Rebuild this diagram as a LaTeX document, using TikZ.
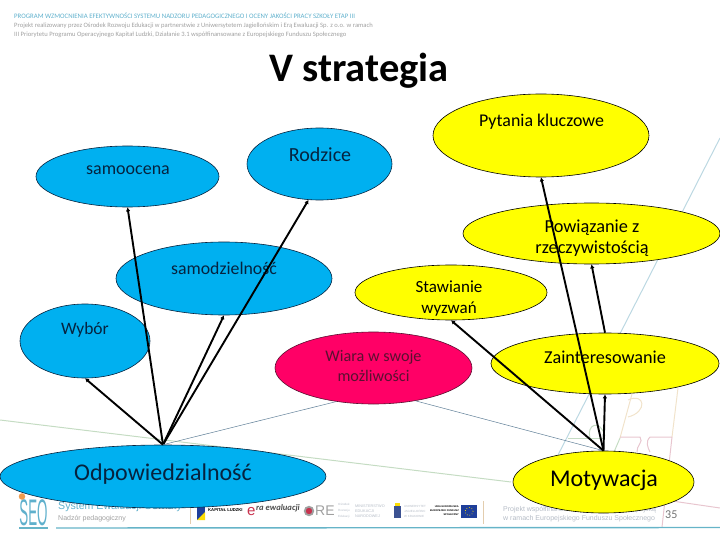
\documentclass[tikz,border=0pt]{standalone}
\usepackage{fontspec}
\setmainfont{Carlito}
\newfontfamily\footfont{Liberation Sans}
\usepackage{xcolor}
\usetikzlibrary{arrows.meta,shapes.geometric}
\definecolor{ink}{HTML}{000000}
\definecolor{skyfill}{HTML}{00B0F0}
\definecolor{sunfill}{HTML}{FFFF00}
\definecolor{rosefill}{HTML}{FF0066}
\definecolor{navyline}{HTML}{06233F}
\definecolor{maroontext}{HTML}{5A1030}
\definecolor{thinblue}{HTML}{5F7F97}
\definecolor{palegreen}{HTML}{C5DCC3}
\definecolor{paleblue}{HTML}{BCD8E2}
\definecolor{palecream}{HTML}{F1E3CB}
\definecolor{palerose}{HTML}{E8C6CF}
\definecolor{seoblue}{HTML}{5FB0CC}
\definecolor{headgray}{HTML}{A0A0A0}
\definecolor{footgray}{HTML}{B5BCC6}
\definecolor{orebar}{HTML}{E3CDAE}
\definecolor{rulecyan}{HTML}{66B4C8}
\definecolor{flagblue}{HTML}{1F3F9A}
\definecolor{eraRed}{HTML}{C8324E}
\definecolor{oreOrange}{HTML}{EE9A4D}
\tikzset{
  skyblob/.style={
    ellipse, draw=navyline, fill=skyfill, line width=0.6pt, inner sep=0pt
  },
  sunblob/.style={
    ellipse, draw=ink, fill=sunfill, line width=0.6pt, inner sep=0pt
  },
  roseblob/.style={
    ellipse, draw=maroontext, fill=rosefill, line width=0.6pt, inner sep=0pt
  },
  blobtext/.style={
    inner sep=0pt, align=center, font=\fontsize{18}{21}\selectfont
  },
  bigtext/.style={
    inner sep=0pt, align=center, font=\fontsize{24}{26}\selectfont
  },
  mainarrow/.style={
    draw=ink, line width=1.9pt, -{Latex[length=4pt,width=4.5pt]}
  },
  thinlink/.style={draw=thinblue, line width=0.5pt},
  backline/.style={line width=1pt},
  headtext/.style={inner sep=0pt, anchor=west, text=headgray, font=\fontsize{6.6}{7}\selectfont},
  foottext/.style={inner sep=0pt, anchor=west, align=left, text=footgray, font=\footfont\fontsize{3}{5}\selectfont}
}

\begin{document}
\begin{tikzpicture}[x=1pt,y=-1pt]
  \useasboundingbox (0,0) rectangle (720,540);

  % pale lines of the slide behind
  \draw[backline,draw=palegreen] (0,420) -- (511,482);
  \draw[backline,draw=palerose] (672,501) -- (720,508);
  \draw[backline,draw=paleblue] (558,455) -- (720,138);
  \draw[backline,draw=palegreen] (568,438) -- (603,438);
  \draw[backline,draw=palegreen] (620,438) -- (614,452);
  \draw[backline,draw=palegreen] (590,438) .. controls (586,425) and (600,418) .. (605,436);
  \draw[backline,draw=palecream] (632,394) -- (620,438);
  \draw[backline,draw=palecream] (628,400) .. controls (645,392) and (648,412) .. (628,417);
  \draw[backline,draw=palecream] (678,388) -- (672,437);
  \draw[backline,draw=palerose] (620,437) -- (640,437) .. controls (644,442) and (636,446) .. (637,452);
  \draw[backline,draw=palerose] (672,437) -- (650,437) .. controls (645,442) and (648,448) .. (650,452);
  \draw[backline,draw=palerose] (672,437) -- (662,527);

  % header
  \node[headtext,text=seoblue,font=\fontsize{6.8}{7}\selectfont] (headone) at (14,15.5)
    {PROGRAM WZMOCNIENIA EFEKTYWNOŚCI SYSTEMU NADZORU PEDAGOGICZNEGO I OCENY JAKOŚCI PRACY SZKOŁY ETAP III};
  \node[headtext] (headtwo) at (14,26)
    {Projekt realizowany przez Ośrodek Rozwoju Edukacji w partnerstwie z Uniwersytetem Jagiellońskim i Erą Ewaluacji Sp. z o.o. w ramach};
  \node[headtext] (headthree) at (14,35)
    {III Priorytetu Programu Operacyjnego Kapitał Ludzki, Działanie 3.1 współfinansowane z Europejskiego Funduszu Społecznego};

  % footer
  \node[inner sep=0pt,text=seoblue,font=\footfont\fontsize{37}{37}\selectfont] (seo) at (33.5,512.5) {\scalebox{0.36}[1]{SEO}};
  \node[circle,fill=oreOrange,minimum size=6.5pt,inner sep=0pt] (seodot) at (22,496.5) {};
  \node[inner sep=0pt,anchor=west,text=seoblue,font=\footfont\fontsize{10.6}{12}\selectfont] (sysname) at (58,507) {System Ewaluacji Oświaty};
  \node[inner sep=0pt,anchor=west,text=headgray,font=\footfont\fontsize{7}{8}\selectfont] (nadzor) at (58,519) {Nadzór pedagogiczny};
  \draw[line width=1.4pt,draw=rulecyan] (19,528) -- (48,528);
  \draw[line width=1.4pt,draw=rulecyan] (56,528) -- (720,527.5);
  \fill[orebar] (190,507) rectangle (191,524);
  \fill[flagblue] (197,507) rectangle (205,520);
  \fill[yellow!80!orange] (197,520) -- (205,512) -- (205,520) -- cycle;
  \node[inner sep=0pt,anchor=west,font=\footfont\fontsize{4.2}{5}\selectfont\bfseries] (kapital) at (208,510) {KAPITAŁ LUDZKI};
  \node[inner sep=0pt,anchor=west,text=eraRed,font=\footfont\fontsize{15}{16}\selectfont] (erae) at (247,512) {e};
  \node[inner sep=0pt,anchor=west,text=black!70,font=\itshape\bfseries\fontsize{8.6}{10}\selectfont] (era) at (256,508) {ra ewaluacji};
  \node[circle,draw=headgray,line width=1.8pt,fill=eraRed,minimum size=8.5pt,inner sep=0pt] (oredot) at (309,511) {};
  \node[inner sep=0pt,anchor=west,text=headgray,font=\footfont\fontsize{14}{14}\selectfont] (ore) at (315,511) {RE};
  \node[foottext,font=\footfont\fontsize{3}{6}\selectfont] (orerest) at (338,511) {Ośrodek\\Rozwoju\\Edukacji};
  \node[foottext,font=\footfont\fontsize{3.8}{5}\selectfont] (men) at (355,511) {MINISTERSTWO\\EDUKACJI\\NARODOWEJ};
  \fill[flagblue!70!gray] (394,506) rectangle (401,518);
  \fill[yellow!80!orange] (395,503) rectangle (400,506);
  \node[foottext] (uj) at (404,511) {UNIWERSYTET\\JAGIELLOŃSKI\\W KRAKOWIE};
  \node[foottext,text=black,anchor=east,align=right,font=\footfont\fontsize{2.5}{4}\selectfont\bfseries] (unia) at (459,511) {UNIA EUROPEJSKA\\EUROPEJSKI FUNDUSZ\\SPOŁECZNY};
  \fill[flagblue] (461,505) rectangle (477,518);
  \draw[yellow!80!orange,line width=0.7pt,dotted] (469,511.5) circle (4pt);
  \fill[orebar] (482.5,501) rectangle (483.5,524);
  \node[inner sep=0pt,anchor=west,align=left,text=footgray,font=\footfont\fontsize{7}{9}\selectfont] (projekt) at (503,514)
    {Projekt współfinansowany przez Unię Europejską\\w ramach Europejskiego Funduszu Społecznego};
  \node[inner sep=0pt,anchor=west,text=black!55,font=\fontsize{12}{14}\selectfont] (page) at (665,515) {35};

  % blobs
  \node[skyblob,minimum width=183pt,minimum height=61pt] (samoocena) at (127.5,176.5) {};
  \node[skyblob,minimum width=145pt,minimum height=72pt] (rodzice) at (319.5,164) {};
  \node[skyblob,minimum width=216pt,minimum height=73pt] (samodzielnosc) at (224,278.5) {};
  \node[skyblob,minimum width=130pt,minimum height=74pt] (wybor) at (85,341) {};
  \node[skyblob,minimum width=326pt,minimum height=63pt] (odpow) at (163,476.5) {};
  \node[sunblob,minimum width=216pt,minimum height=83pt] (pytania) at (541,135.5) {};
  \node[sunblob,minimum width=257pt,minimum height=61pt] (powiazanie) at (591.5,233.5) {};
  \node[sunblob,minimum width=192pt,minimum height=55pt] (stawianie) at (451,292.5) {};
  \node[sunblob,minimum width=228pt,minimum height=61pt] (zainter) at (605,363.5) {};
  \node[sunblob,minimum width=181pt,minimum height=62pt] (motywacja) at (603.5,482) {};
  \node[roseblob,minimum width=197pt,minimum height=72pt] (wiara) at (373.5,368) {};

  % labels of the blobs
  \node[blobtext,text=navyline] (samoocenatext) at (128,170) {samoocena};
  \node[blobtext,text=navyline,font=\fontsize{20}{22}\selectfont] (rodzicetext) at (320,155) {Rodzice};
  \node[blobtext,text=navyline,font=\fontsize{17.8}{20}\selectfont] (samodzielnosctext) at (224,268) {samodzielność};
  \node[blobtext,text=navyline,font=\fontsize{17.5}{20}\selectfont] (wybortext) at (85,330) {Wybór};
  \node[bigtext,text=navyline] (odpowtext) at (163,474) {Odpowiedzialność};
  \node[blobtext,font=\fontsize{17.9}{20}\selectfont] (pytaniatext) at (541.5,122) {Pytania kluczowe};
  \node[blobtext,font=\fontsize{18.3}{21}\selectfont] (powiazanietext) at (592,238) {Powiązanie z\\rzeczywistością};
  \node[blobtext,font=\fontsize{17}{21}\selectfont] (stawianietext) at (449,299) {Stawianie\\wyzwań};
  \node[blobtext,font=\fontsize{18.2}{20}\selectfont] (zaintertext) at (605,357) {Zainteresowanie};
  \node[bigtext] (motywacjatext) at (604,480) {Motywacja};
  \node[blobtext,text=maroontext,font=\fontsize{16.2}{20}\selectfont] (wiaratext) at (373.5,366) {Wiara w swoje\\możliwości};

  % connectors
  \draw[mainarrow] (odpow.north) -- (samoocena.south);
  \draw[mainarrow] (odpow.north) -- (rodzice.253);
  \draw[mainarrow] (odpow.north) -- (samodzielnosc.south);
  \draw[mainarrow] (odpow.north) -- (wybor.south);
  \draw[thinlink] (odpow.north) -- (wiara.222);
  \draw[thinlink] (motywacja.north) -- (wiara.322);
  \draw[mainarrow] (motywacja.north) -- (pytania.south);
  \draw[mainarrow] (motywacja.north) -- (stawianie.south);
  \draw[mainarrow] (motywacja.north) -- (zainter.south);
  \draw[mainarrow] (zainter.north) -- (powiazanie.south);

  % title
  \node[inner sep=0pt,font=\fontsize{40.5}{42}\selectfont\bfseries] (title) at (359,71) {V strategia};
\end{tikzpicture}
\end{document}
